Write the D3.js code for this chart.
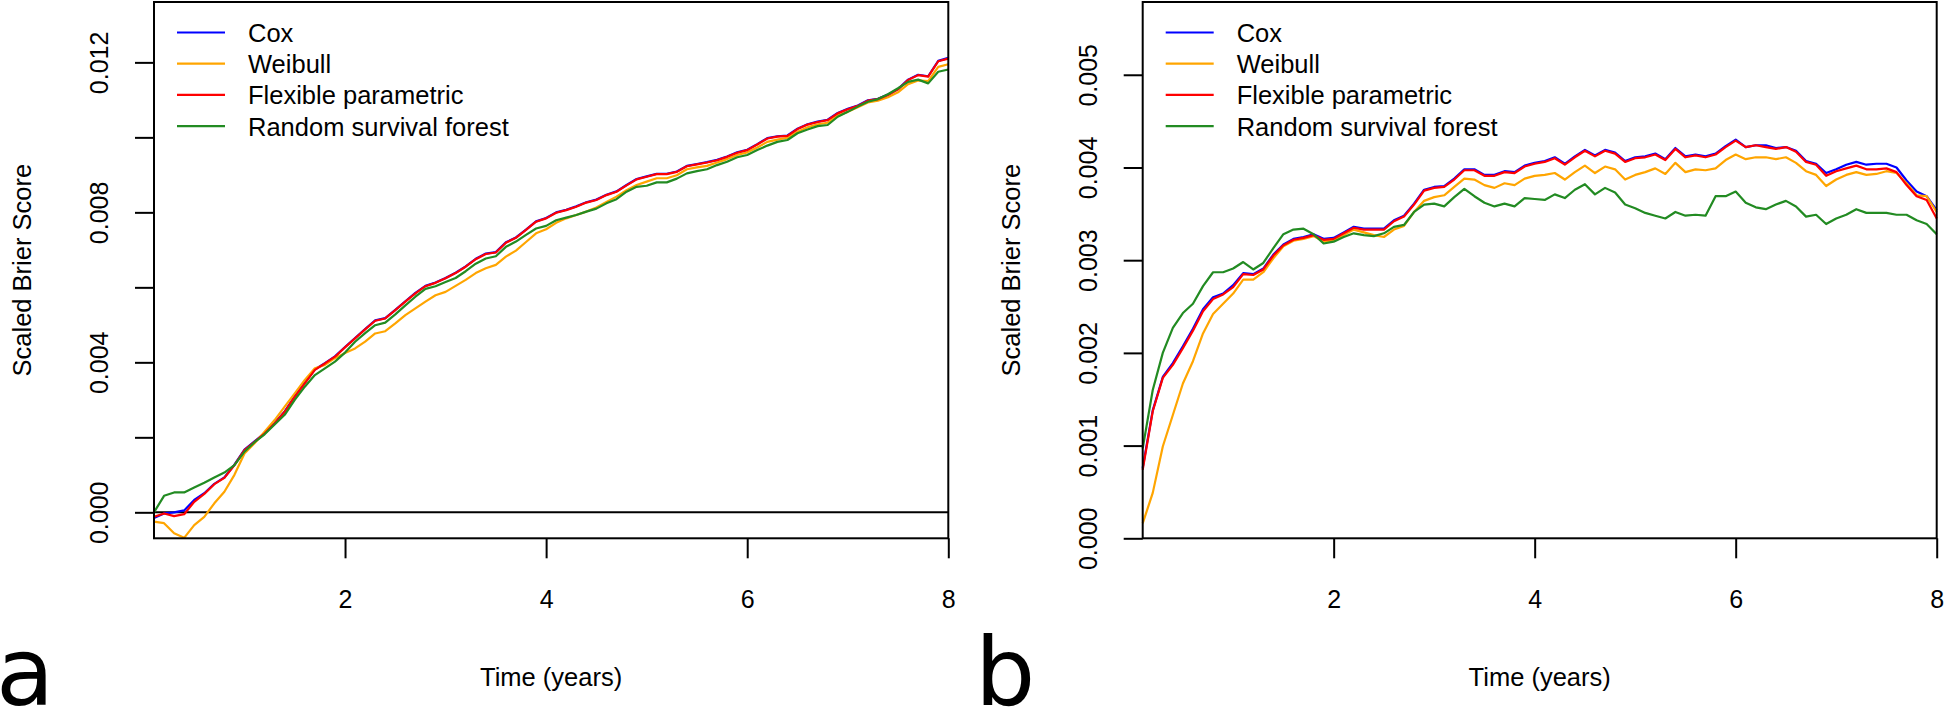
<!DOCTYPE html>
<html>

<head>
    <script type="text/javascript" src="https://d3js.org/d3.v7.min.js"></script>
    <style>
        body {
            margin: 0;
            background: #ffffff;
        }

        svg {
            display: block;
            background: #ffffff;
        }

        text {
            font-family: "Liberation Sans", Arial, sans-serif;
            fill: #000;
        }

        .line {
            fill: none;
            stroke-width: 2.2px;
            stroke-linejoin: round;
        }

        .tick line {
            stroke: #000;
            stroke-width: 2px;
        }
    </style>
</head>

<body>
    <div id="container"></div>

    <script>
        // time grid (years), shared by both panels
        var times = [0.1, 0.2, 0.3, 0.4, 0.5, 0.6, 0.7, 0.8, 0.9, 1.0,
            1.1, 1.2, 1.3, 1.4, 1.5, 1.6, 1.7, 1.8, 1.9, 2.0,
            2.1, 2.2, 2.3, 2.4, 2.5, 2.6, 2.7, 2.8, 2.9, 3.0,
            3.1, 3.2, 3.3, 3.4, 3.5, 3.6, 3.7, 3.8, 3.9, 4.0,
            4.1, 4.2, 4.3, 4.4, 4.5, 4.6, 4.7, 4.8, 4.9, 5.0,
            5.1, 5.2, 5.3, 5.4, 5.5, 5.6, 5.7, 5.8, 5.9, 6.0,
            6.1, 6.2, 6.3, 6.4, 6.5, 6.6, 6.7, 6.8, 6.9, 7.0,
            7.1, 7.2, 7.3, 7.4, 7.5, 7.6, 7.7, 7.8, 7.9, 8.0];

        var models = ["Cox", "Weibull", "Flexible parametric", "Random survival forest"];
        var colors = ["#0000ff", "#ffa500", "#ff0000", "#228b22"];

        // panel a, scaled Brier score in units of 1/1000
        var coxA = [-0.15, -0.03, 0.00, 0.05, 0.33, 0.51, 0.76, 0.93, 1.27, 1.67,
            1.89, 2.11, 2.38, 2.69, 3.09, 3.45, 3.81, 3.98, 4.16, 4.41,
            4.65, 4.89, 5.12, 5.18, 5.40, 5.63, 5.85, 6.04, 6.13, 6.25,
            6.39, 6.56, 6.76, 6.90, 6.94, 7.20, 7.33, 7.54, 7.76, 7.85,
            8.00, 8.07, 8.16, 8.27, 8.34, 8.47, 8.56, 8.73, 8.89, 8.96,
            9.03, 9.03, 9.09, 9.24, 9.29, 9.34, 9.40, 9.49, 9.60, 9.67,
            9.82, 9.98, 10.03, 10.05, 10.23, 10.35, 10.42, 10.47, 10.65, 10.76,
            10.85, 10.99, 11.03, 11.14, 11.29, 11.54, 11.67, 11.63, 12.04, 12.12];
        var weibullA = [-0.25, -0.29, -0.56, -0.68, -0.34, -0.12, 0.24, 0.55, 1.00, 1.57,
            1.84, 2.15, 2.46, 2.82, 3.17, 3.53, 3.84, 3.93, 4.11, 4.25,
            4.37, 4.55, 4.77, 4.83, 5.04, 5.26, 5.44, 5.62, 5.79, 5.88,
            6.04, 6.20, 6.38, 6.51, 6.60, 6.82, 6.98, 7.21, 7.44, 7.55,
            7.72, 7.84, 7.93, 8.02, 8.13, 8.28, 8.42, 8.59, 8.73, 8.82,
            8.91, 8.91, 8.99, 9.15, 9.20, 9.24, 9.33, 9.42, 9.53, 9.60,
            9.73, 9.88, 9.94, 9.99, 10.15, 10.27, 10.35, 10.39, 10.58, 10.68,
            10.80, 10.93, 10.98, 11.07, 11.20, 11.42, 11.52, 11.50, 11.88, 11.95];
        var flexA = [-0.12, -0.03, -0.10, -0.05, 0.28, 0.49, 0.75, 0.92, 1.26, 1.66,
            1.88, 2.10, 2.37, 2.68, 3.08, 3.44, 3.80, 3.97, 4.15, 4.40,
            4.64, 4.88, 5.11, 5.17, 5.39, 5.62, 5.84, 6.03, 6.12, 6.24,
            6.38, 6.55, 6.75, 6.89, 6.93, 7.19, 7.32, 7.53, 7.75, 7.84,
            7.99, 8.06, 8.15, 8.26, 8.33, 8.46, 8.55, 8.72, 8.88, 8.95,
            9.02, 9.02, 9.08, 9.23, 9.28, 9.33, 9.39, 9.48, 9.59, 9.66,
            9.81, 9.97, 10.02, 10.04, 10.22, 10.34, 10.41, 10.46, 10.64, 10.75,
            10.84, 10.98, 11.02, 11.13, 11.28, 11.53, 11.66, 11.62, 12.03, 12.10];
        var rsfA = [0.00, 0.44, 0.53, 0.53, 0.66, 0.79, 0.93, 1.06, 1.26, 1.62,
            1.87, 2.08, 2.34, 2.60, 3.00, 3.35, 3.66, 3.84, 4.02, 4.26,
            4.55, 4.78, 4.99, 5.06, 5.28, 5.52, 5.75, 5.96, 6.03, 6.14,
            6.25, 6.43, 6.63, 6.77, 6.83, 7.08, 7.22, 7.40, 7.57, 7.64,
            7.79, 7.86, 7.93, 8.02, 8.10, 8.24, 8.35, 8.55, 8.68, 8.71,
            8.80, 8.80, 8.90, 9.04, 9.10, 9.15, 9.26, 9.35, 9.47, 9.53,
            9.66, 9.78, 9.88, 9.93, 10.11, 10.21, 10.30, 10.33, 10.55, 10.68,
            10.82, 10.95, 11.02, 11.15, 11.31, 11.48, 11.54, 11.44, 11.75, 11.81];

        // panel b, scaled Brier score in units of 1/1000
        var coxB = [0.76, 1.38, 1.74, 1.89, 2.07, 2.26, 2.47, 2.60, 2.64, 2.73,
            2.86, 2.85, 2.91, 3.06, 3.17, 3.23, 3.25, 3.28, 3.23, 3.24,
            3.30, 3.36, 3.34, 3.34, 3.34, 3.43, 3.48, 3.61, 3.76, 3.79,
            3.80, 3.88, 3.98, 3.98, 3.92, 3.92, 3.96, 3.95, 4.02, 4.05,
            4.07, 4.11, 4.04, 4.12, 4.19, 4.13, 4.19, 4.16, 4.07, 4.11,
            4.12, 4.15, 4.09, 4.21, 4.12, 4.14, 4.12, 4.15, 4.23, 4.30,
            4.22, 4.24, 4.24, 4.21, 4.22, 4.18, 4.07, 4.04, 3.94, 3.98,
            4.03, 4.06, 4.03, 4.04, 4.04, 4.00, 3.86, 3.74, 3.69, 3.54];
        var weibullB = [0.16, 0.49, 0.99, 1.33, 1.67, 1.91, 2.21, 2.42, 2.53, 2.64,
            2.79, 2.79, 2.87, 3.02, 3.15, 3.21, 3.23, 3.26, 3.20, 3.21,
            3.27, 3.33, 3.30, 3.27, 3.25, 3.33, 3.37, 3.52, 3.64, 3.68,
            3.70, 3.79, 3.88, 3.87, 3.81, 3.78, 3.83, 3.81, 3.88, 3.91,
            3.92, 3.94, 3.87, 3.95, 4.02, 3.94, 4.01, 3.98, 3.87, 3.92,
            3.95, 3.99, 3.93, 4.05, 3.95, 3.98, 3.97, 3.99, 4.08, 4.14,
            4.09, 4.11, 4.11, 4.09, 4.11, 4.05, 3.96, 3.92, 3.80, 3.87,
            3.92, 3.95, 3.92, 3.93, 3.96, 3.94, 3.83, 3.70, 3.69, 3.52];
        var flexB = [0.74, 1.37, 1.73, 1.87, 2.05, 2.24, 2.45, 2.58, 2.63, 2.71,
            2.85, 2.84, 2.90, 3.05, 3.16, 3.22, 3.24, 3.27, 3.22, 3.23,
            3.29, 3.35, 3.33, 3.33, 3.33, 3.42, 3.47, 3.60, 3.75, 3.78,
            3.79, 3.87, 3.97, 3.97, 3.91, 3.91, 3.95, 3.94, 4.01, 4.04,
            4.06, 4.10, 4.03, 4.11, 4.18, 4.12, 4.18, 4.15, 4.06, 4.10,
            4.11, 4.14, 4.08, 4.20, 4.11, 4.13, 4.11, 4.14, 4.22, 4.29,
            4.22, 4.24, 4.22, 4.20, 4.22, 4.17, 4.06, 4.03, 3.91, 3.96,
            3.99, 4.02, 3.98, 3.98, 3.99, 3.95, 3.81, 3.69, 3.65, 3.45];
        var rsfB = [0.97, 1.60, 2.00, 2.27, 2.43, 2.53, 2.72, 2.87, 2.87, 2.91,
            2.98, 2.90, 2.97, 3.13, 3.28, 3.33, 3.34, 3.28, 3.18, 3.20,
            3.25, 3.29, 3.27, 3.26, 3.29, 3.36, 3.38, 3.52, 3.60, 3.61,
            3.58, 3.68, 3.77, 3.69, 3.62, 3.58, 3.61, 3.58, 3.67, 3.66,
            3.65, 3.71, 3.67, 3.76, 3.82, 3.71, 3.78, 3.73, 3.60, 3.56,
            3.51, 3.48, 3.45, 3.52, 3.48, 3.49, 3.48, 3.69, 3.69, 3.74,
            3.62, 3.57, 3.55, 3.60, 3.64, 3.58, 3.47, 3.49, 3.39, 3.45,
            3.49, 3.55, 3.51, 3.51, 3.51, 3.49, 3.49, 3.43, 3.39, 3.28];

        // axis ticks
        var xTicks = [2, 4, 6, 8];
        var yTicksA = [0, 0.002, 0.004, 0.006, 0.008, 0.010, 0.012];
        var yLabelsA = [0, 0.004, 0.008, 0.012];
        var yTicksB = [0, 0.001, 0.002, 0.003, 0.004, 0.005];
        var yLabelsB = [0, 0.001, 0.002, 0.003, 0.004, 0.005];

        var W = 1944,
            H = 710;

        var svg = d3.select("#container").append("svg")
            .attr("width", W)
            .attr("height", H);

        function drawPanel(p) {
            var x = d3.scaleLinear().domain([0.1, 8]).range([p.left, p.right]);
            var y = d3.scaleLinear().domain(p.yDomain).range([p.bottom, p.top]);

            var g = svg.append("g");

            // y axis, rotated labels like base R
            var ya = g.append("g")
                .attr("transform", "translate(" + p.left + ",0)")
                .call(d3.axisLeft(y).tickValues(p.yTicks).tickSize(19)
                    .tickFormat(function(d) {
                        return p.yLabels.some(function(v) {
                            return Math.abs(v - d) < 1e-9;
                        }) ? d3.format(".3f")(d) : "";
                    }));
            ya.select(".domain").remove();
            ya.selectAll("text")
                .attr("x", null)
                .attr("dy", null)
                .attr("transform", "translate(-46,0) rotate(-90)")
                .style("text-anchor", "middle")
                .style("font-size", "25px");

            // x axis
            var xa = g.append("g")
                .attr("transform", "translate(0," + p.bottom + ")")
                .call(d3.axisBottom(x).tickValues(xTicks).tickSize(20).tickFormat(d3.format("d")));
            xa.select(".domain").remove();
            xa.selectAll("text")
                .attr("y", 70)
                .attr("dy", null)
                .style("font-size", "25px");

            if (p.zeroLine) {
                g.append("line")
                    .attr("x1", p.left).attr("x2", p.right)
                    .attr("y1", y(0)).attr("y2", y(0))
                    .style("stroke", "#000")
                    .style("stroke-width", 2);
            }

            // the lines
            var line = d3.line()
                .x(function(d) {
                    return x(d[0]);
                })
                .y(function(d) {
                    return y(d[1]);
                });

            p.series.forEach(function(s, i) {
                var pts = times.map(function(t, j) {
                    return [t, s[j] / 1000];
                });
                g.append("path")
                    .datum(pts)
                    .attr("class", "line")
                    .style("stroke", colors[i])
                    .attr("d", line);
            });

            // box
            g.append("rect")
                .attr("x", p.left)
                .attr("y", p.top)
                .attr("width", p.right - p.left)
                .attr("height", p.bottom - p.top)
                .style("fill", "none")
                .style("stroke", "#000")
                .style("stroke-width", 2);

            // legend, no box
            var leg = g.append("g")
                .attr("transform", "translate(" + p.left + "," + p.top + ")");
            models.forEach(function(m, i) {
                var ly = 30.5 + i * 31.2;
                leg.append("line")
                    .attr("x1", 23).attr("x2", 71)
                    .attr("y1", ly).attr("y2", ly)
                    .style("stroke", colors[i])
                    .style("stroke-width", 2.2);
                leg.append("text")
                    .attr("x", 94)
                    .attr("y", ly + 9.5)
                    .style("font-size", "25.5px")
                    .text(m);
            });

            // axis titles
            g.append("text")
                .attr("transform", "translate(" + (p.left - 123) + "," + ((p.top + p.bottom) / 2) + ") rotate(-90)")
                .style("text-anchor", "middle")
                .style("font-size", "25.5px")
                .text("Scaled Brier Score");

            g.append("text")
                .attr("x", (p.left + p.right) / 2)
                .attr("y", 686)
                .style("text-anchor", "middle")
                .style("font-size", "25.5px")
                .text("Time (years)");

            // panel letter
            g.append("text")
                .attr("x", p.letterX)
                .attr("y", 705)
                .style("font-family", "'DejaVu Sans', sans-serif")
                .style("font-size", "95px")
                .text(p.letter);
        }

        drawPanel({
            left: 154,
            right: 948.3,
            top: 2,
            bottom: 538.3,
            yDomain: [-0.000693, 0.01361],
            yTicks: yTicksA,
            yLabels: yLabelsA,
            zeroLine: true,
            series: [coxA, weibullA, flexA, rsfA],
            letter: "a",
            letterX: -4
        });

        drawPanel({
            left: 1142.7,
            right: 1936.7,
            top: 2,
            bottom: 538.3,
            yDomain: [0, 0.005785],
            yTicks: yTicksB,
            yLabels: yLabelsB,
            zeroLine: false,
            series: [coxB, weibullB, flexB, rsfB],
            letter: "b",
            letterX: 975
        });
    </script>
</body>

</html>
